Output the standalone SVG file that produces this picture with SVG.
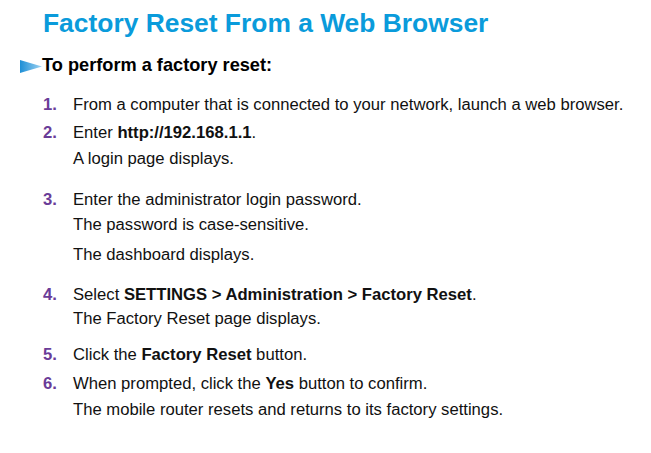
<svg xmlns="http://www.w3.org/2000/svg" width="651" height="453" viewBox="0 0 651 453">
<defs>
<linearGradient id="ag" x1="0" y1="0" x2="1" y2="0">
<stop offset="0" stop-color="#1E8FD6"/>
<stop offset="1" stop-color="#9FD3F2"/>
</linearGradient>
<style>
.t{font-family:"Liberation Sans",Arial,sans-serif;}
.title{font-size:26.4px;font-weight:bold;fill:#0A9BDB;}
.sub{font-size:18.2px;font-weight:bold;fill:#000;}
.n{font-size:16.65px;font-weight:bold;fill:#6A3C98;}
.b{font-size:16.65px;fill:#111;}
.k{font-weight:bold;}
</style>
</defs>
<rect width="651" height="453" fill="#fff"/>
<g id="title"><text class="t title" x="43" y="32">Factory Reset From a Web Browser</text></g>
<g id="heading">
<polygon points="20,60 20,73 42,66.5" fill="url(#ag)"/>
<text class="t sub" x="42" y="71">To perform a factory reset:</text>
</g>
<g id="steps">
<text class="t n" x="43" y="110">1.</text>
<text class="t b" x="73" y="110">From a computer that is connected to your network, launch a web browser.</text>
<text class="t n" x="43" y="138">2.</text>
<text class="t b" x="73" y="138">Enter <tspan class="k">http://192.168.1.1</tspan>.</text>
<text class="t b" x="73" y="164">A login page displays.</text>
<text class="t n" x="43" y="205">3.</text>
<text class="t b" x="73" y="205">Enter the administrator login password.</text>
<text class="t b" x="73" y="230">The password is case-sensitive.</text>
<text class="t b" x="73" y="260">The dashboard displays.</text>
<text class="t n" x="43" y="300">4.</text>
<text class="t b" x="73" y="300">Select <tspan class="k">SETTINGS &gt; Administration &gt; Factory Reset</tspan>.</text>
<text class="t b" x="73" y="324">The Factory Reset page displays.</text>
<text class="t n" x="43" y="360">5.</text>
<text class="t b" x="73" y="360">Click the <tspan class="k">Factory Reset</tspan> button.</text>
<text class="t n" x="43" y="389">6.</text>
<text class="t b" x="73" y="389">When prompted, click the <tspan class="k">Yes</tspan> button to confirm.</text>
<text class="t b" x="73" y="415">The mobile router resets and returns to its factory settings.</text>
</g>
</svg>
